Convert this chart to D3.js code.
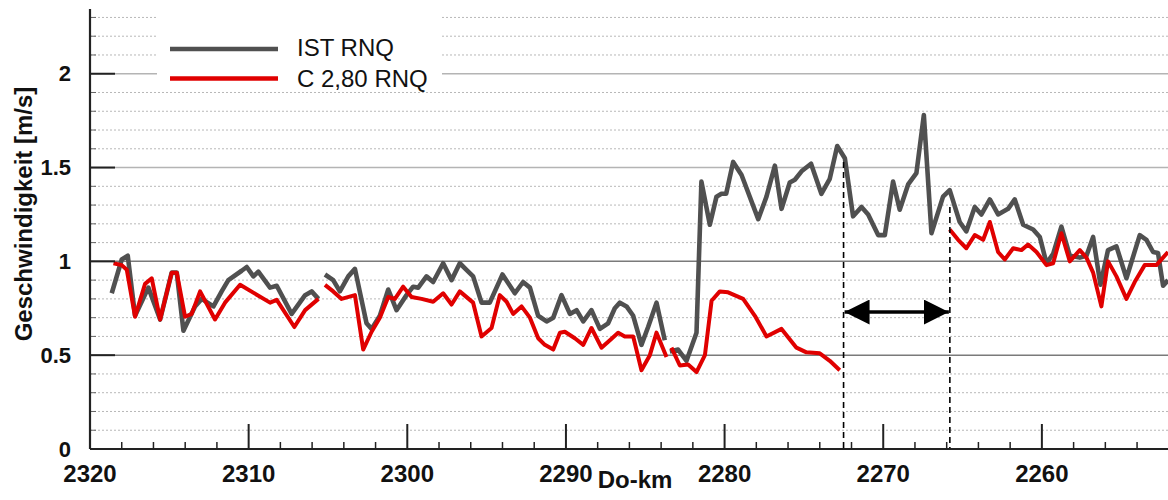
<!DOCTYPE html>
<head>
  <style>
    body { margin: 0; background: #fff; }
    text { font-family: "Liberation Sans", Arial, sans-serif; fill: #111; }
  </style>
<title>Geschwindigkeit</title></head>

<body>

  <script src="https://cdn.jsdelivr.net/npm/d3@7/dist/d3.min.js"></script>

  <script>
    // data (null = gap in the line)
    var istKm = [2318.63, 2318.0, 2317.62, 2317.16, 2316.32, 2315.58, 2314.85, 2314.53, 2314.11, 2313.38,
      2312.96, 2312.22, 2311.70, 2311.28, 2310.44, 2310.12, 2309.70, 2309.39, 2308.65, 2308.23,
      2307.29, 2306.44, 2306.03, 2305.6, 2305.4,
      2305.19, 2304.67, 2304.25, 2303.72, 2303.30, 2302.57, 2302.25, 2301.73, 2301.20, 2300.68,
      2300.05, 2299.63, 2299.31, 2298.79, 2298.37, 2297.74, 2297.21, 2296.69, 2296.27, 2295.85,
      2295.32, 2294.80, 2294.0, 2293.22, 2292.70, 2292.27, 2291.75, 2291.22, 2290.80, 2290.28,
      2289.75, 2289.33, 2288.91, 2288.39, 2287.86, 2287.34, 2286.92, 2286.60, 2286.18, 2285.76,
      2285.24, 2284.82, 2284.29, 2283.77, 2283.6,
      2283.45, 2282.93, 2282.40, 2281.77, 2281.46, 2280.93, 2280.51, 2280.20, 2279.90, 2279.46,
      2278.93, 2277.88, 2277.36, 2276.83, 2276.41, 2275.89, 2275.57, 2275.15, 2274.55, 2273.90,
      2273.37, 2272.90, 2272.42, 2271.90, 2271.37, 2270.95, 2270.32, 2269.90, 2269.38, 2268.96,
      2268.43, 2267.91, 2267.44, 2266.96, 2266.23, 2265.81, 2265.18, 2264.76, 2264.23, 2263.81,
      2263.28, 2262.76, 2262.13, 2261.71, 2261.18, 2260.55, 2260.13, 2259.71, 2259.29, 2258.77,
      2258.24, 2257.61, 2257.19, 2256.77, 2256.31, 2255.83, 2255.30, 2254.67, 2253.83, 2253.41,
      2252.99, 2252.68, 2252.36, 2252.05];
    var istVal = [0.83, 1.01, 1.03, 0.71, 0.86, 0.69, 0.94, 0.94, 0.63, 0.76,
      0.80, 0.76, 0.84, 0.90, 0.95, 0.97, 0.92, 0.945, 0.86, 0.87,
      0.72, 0.82, 0.84, 0.80, null,
      0.93, 0.90, 0.84, 0.92, 0.96, 0.67, 0.64, 0.71, 0.85, 0.74,
      0.82, 0.865, 0.86, 0.92, 0.89, 0.99, 0.90, 0.99, 0.955, 0.92,
      0.78, 0.78, 0.93, 0.83, 0.89, 0.86, 0.71, 0.68, 0.70, 0.82,
      0.72, 0.74, 0.68, 0.74, 0.64, 0.67, 0.75, 0.78, 0.76, 0.71,
      0.555, 0.65, 0.78, 0.58, null,
      0.52, 0.53, 0.47, 0.62, 1.425, 1.195, 1.345, 1.36, 1.36, 1.53,
      1.46, 1.225, 1.345, 1.51, 1.28, 1.42, 1.435, 1.48, 1.52, 1.36,
      1.44, 1.615, 1.55, 1.24, 1.29, 1.25, 1.14, 1.14, 1.425, 1.275,
      1.41, 1.47, 1.78, 1.15, 1.345, 1.38, 1.21, 1.16, 1.29, 1.25,
      1.33, 1.25, 1.28, 1.33, 1.195, 1.17, 1.13, 0.99, 1.04, 1.185,
      1.03, 1.02, 1.03, 1.13, 0.876, 1.06, 1.08, 0.91, 1.14, 1.115,
      1.05, 1.045, 0.87, 0.90];

    var cKm = [2318.52, 2318.0, 2317.68, 2317.16, 2316.53, 2316.11, 2315.58, 2314.85, 2314.53, 2314.01,
      2313.59, 2313.06, 2312.12, 2311.49, 2310.54, 2308.65, 2308.23, 2307.12, 2306.44, 2305.6, 2305.4,
      2305.19, 2304.67, 2304.14, 2303.30, 2302.78, 2302.25, 2301.73, 2301.20, 2300.78, 2300.26,
      2299.73, 2299.10, 2298.37, 2297.74, 2297.21, 2296.69, 2295.85, 2295.32, 2294.69, 2294.17,
      2293.74, 2293.33, 2292.80, 2292.27, 2291.75, 2291.33, 2290.80, 2290.38, 2290.07, 2289.44,
      2288.91, 2288.39, 2287.76, 2287.23, 2286.71, 2286.29, 2285.76, 2285.24, 2284.71, 2284.29,
      2283.66, 2283.5,
      2283.35, 2282.82, 2282.30, 2281.77, 2281.24, 2280.82, 2280.30, 2279.78, 2278.83, 2278.09,
      2277.36, 2276.41, 2275.47, 2274.84, 2274.00, 2273.37, 2272.74, 2270.0,
      2265.81, 2265.28, 2264.76, 2264.23, 2263.70, 2263.28, 2262.76, 2262.34, 2261.81, 2261.29,
      2260.87, 2260.34, 2259.71, 2259.29, 2258.77, 2258.24, 2257.61, 2257.19, 2256.77, 2256.25,
      2255.83, 2255.30, 2254.67, 2254.15, 2253.52, 2252.78, 2252.05];
    var cVal = [0.99, 0.98, 0.955, 0.705, 0.88, 0.91, 0.69, 0.94, 0.94, 0.705,
      0.72, 0.84, 0.69, 0.78, 0.875, 0.78, 0.795, 0.65, 0.74, 0.80, null,
      0.875, 0.84, 0.80, 0.82, 0.53, 0.625, 0.70, 0.81, 0.80, 0.865,
      0.81, 0.80, 0.785, 0.83, 0.77, 0.84, 0.78, 0.60, 0.645, 0.82,
      0.785, 0.72, 0.76, 0.70, 0.59, 0.555, 0.53, 0.62, 0.625, 0.59,
      0.555, 0.645, 0.54, 0.58, 0.62, 0.60, 0.60, 0.42, 0.50, 0.62,
      0.49, null,
      0.54, 0.445, 0.45, 0.41, 0.50, 0.79, 0.84, 0.835, 0.80, 0.71,
      0.60, 0.64, 0.54, 0.515, 0.51, 0.47, 0.42, null,
      1.17, 1.115, 1.07, 1.14, 1.115, 1.21, 1.05, 1.01, 1.07, 1.06,
      1.09, 1.05, 0.98, 0.99, 1.15, 1.00, 1.06, 1.02, 0.94, 0.76,
      1.00, 0.92, 0.80, 0.89, 0.98, 0.98, 1.05];

    var seriesNames = ["IST RNQ", "C 2,80 RNQ"];
    var seriesColors = ["#505050", "#e00000"];

    var xMajor = [2320, 2310, 2300, 2290, 2280, 2270, 2260];
    var yMajor = [0, 0.5, 1, 1.5, 2];
    var yLabels = ["0", "0.5", "1", "1.5", "2"];

    // marked section (dashed lines + arrow)
    var markKm = [2272.5, 2265.8];
    var markTop = [1.53, 1.29];
    var arrowVal = 0.73;

    var margin = {top: 9, right: 0, bottom: 51, left: 90};
    var width = 1168 - margin.left - margin.right,
        height = 500 - margin.top - margin.bottom;

    var x = d3.scaleLinear().domain([2320, 2252.05]).range([0, width]),
        y = d3.scaleLinear().domain([0, 2.345]).range([height, 0]);

    var svg = d3.select("body").append("svg")
                .attr("width", 1168).attr("height", 500)
                .append("g").attr("transform", "translate(" + margin.left + "," + margin.top + ")");

    // grid lines: dotted every 0.1, solid at the major values
    var minor = d3.range(1, 24).map(function(i) { return i / 10; })
                  .filter(function(v) { return Math.round(v * 10) % 5 != 0; });
    svg.append("g").selectAll("line").data(minor).join("line")
       .attr("x1", 0).attr("x2", width)
       .attr("y1", function(d) { return y(d); }).attr("y2", function(d) { return y(d); })
       .attr("stroke", "#b8b8b8").attr("stroke-width", 1).attr("stroke-dasharray", "2,2");
    svg.append("g").selectAll("line").data(yMajor.slice(1)).join("line")
       .attr("x1", 0).attr("x2", width)
       .attr("y1", function(d) { return y(d); }).attr("y2", function(d) { return y(d); })
       .attr("stroke", function(d) { return d <= 1 ? "#7a7a7a" : "#b4b4b4"; })
       .attr("stroke-width", 1.5);

    // legend box (white, hides the grid behind it)
    var legend = svg.append("g").attr("transform", "translate(67,0)");
    legend.append("rect").attr("x", 0).attr("y", 1).attr("width", 285).attr("height", 78).attr("fill", "#fff");
    seriesNames.forEach(function(name, i) {
      legend.append("line").attr("x1", 13).attr("x2", 121)
            .attr("y1", 40 + i * 29.6).attr("y2", 40 + i * 29.6)
            .attr("stroke", seriesColors[i]).attr("stroke-width", 4.5);
      legend.append("text").attr("x", 140).attr("y", 47 + i * 31)
            .style("font-size", "24px").text(name);
    });

    // lines
    svg.append("clipPath").attr("id", "clip").append("rect")
       .attr("x", 0).attr("y", 0).attr("width", width).attr("height", height);

    var line = d3.line()
                 .defined(function(d) { return d[1] != null; })
                 .x(function(d) { return x(d[0]); })
                 .y(function(d) { return y(d[1]); });

    var istData = istKm.map(function(k, i) { return [k, istVal[i]]; });
    var cData = cKm.map(function(k, i) { return [k, cVal[i]]; });

    svg.append("path").datum(istData).attr("clip-path", "url(#clip)")
       .attr("fill", "none").attr("stroke", seriesColors[0]).attr("stroke-width", 4.6)
       .attr("stroke-linejoin", "round").attr("d", line);
    svg.append("path").datum(cData).attr("clip-path", "url(#clip)")
       .attr("fill", "none").attr("stroke", seriesColors[1]).attr("stroke-width", 4)
       .attr("stroke-linejoin", "round").attr("d", line);

    // dashed markers and double arrow
    svg.append("g").selectAll("line").data(markKm).join("line")
       .attr("x1", function(d) { return x(d); }).attr("x2", function(d) { return x(d); })
       .attr("y1", function(d, i) { return y(markTop[i]); }).attr("y2", height)
       .attr("stroke", "#000").attr("stroke-width", 1.6).attr("stroke-dasharray", "6,4");

    var defs = svg.append("defs");
    defs.append("marker").attr("id", "head").attr("viewBox", "0 0 10 10")
        .attr("refX", 10).attr("refY", 5).attr("markerWidth", 25).attr("markerHeight", 25)
        .attr("markerUnits", "userSpaceOnUse").attr("orient", "auto-start-reverse")
        .append("path").attr("d", "M0,0L10,5L0,10Z").attr("fill", "#000");
    svg.append("line")
       .attr("x1", x(markKm[0]) + 1).attr("x2", x(markKm[1]) - 1)
       .attr("y1", y(arrowVal)).attr("y2", y(arrowVal))
       .attr("stroke", "#000").attr("stroke-width", 3.5)
       .attr("marker-start", "url(#head)").attr("marker-end", "url(#head)");

    // X axis: ticks pointing up into the plot
    var xAx = svg.append("g").attr("id", "x_axis").attr("transform", "translate(0," + height + ")");
    xAx.append("g").selectAll("line").data(d3.range(2318, 2252, -2).filter(function(k) { return k % 10 != 0; }))
       .join("line").attr("x1", function(d) { return x(d); }).attr("x2", function(d) { return x(d); })
       .attr("y1", 0).attr("y2", -7).attr("stroke", "#222").attr("stroke-width", 1.5);
    xAx.append("g").selectAll("line").data(xMajor)
       .join("line").attr("x1", function(d) { return x(d); }).attr("x2", function(d) { return x(d); })
       .attr("y1", 0).attr("y2", -25).attr("stroke", "#222").attr("stroke-width", 2);
    xAx.append("line").attr("x1", 0).attr("x2", width).attr("stroke", "#222").attr("stroke-width", 2.2);
    xAx.append("g").selectAll("text").data(xMajor).join("text")
       .attr("x", function(d) { return x(d); }).attr("y", 33)
       .attr("text-anchor", "middle").style("font-size", "24px").style("font-weight", "bold")
       .text(function(d) { return d; });

    // X axis label
    svg.append("text").attr("id", "x_axis_label")
       .attr("x", 545).attr("y", 488 - margin.top)
       .attr("text-anchor", "middle").style("font-size", "24px").style("font-weight", "bold")
       .text("Do-km");

    // Y axis
    var yAx = svg.append("g").attr("id", "y_axis");
    yAx.append("g").selectAll("line").data(minor).join("line")
       .attr("x1", 0).attr("x2", 6)
       .attr("y1", function(d) { return y(d); }).attr("y2", function(d) { return y(d); })
       .attr("stroke", "#666").attr("stroke-width", 1);
    yAx.append("g").selectAll("line").data(yMajor).join("line")
       .attr("x1", 0).attr("x2", 25)
       .attr("y1", function(d) { return y(d); }).attr("y2", function(d) { return y(d); })
       .attr("stroke", "#222").attr("stroke-width", 2);
    yAx.append("line").attr("y1", 0).attr("y2", height).attr("stroke", "#222").attr("stroke-width", 2.2);
    yAx.append("g").selectAll("text").data(yMajor).join("text")
       .attr("x", -19).attr("y", function(d) { return y(d); }).attr("dy", "0.35em")
       .attr("text-anchor", "end").style("font-size", "22px").style("font-weight", "bold")
       .text(function(d, i) { return yLabels[i]; });

    svg.append("text").attr("id", "y_axis_label")
       .attr("transform", "rotate(-90)")
       .attr("x", -(214 - margin.top)).attr("y", 32 - margin.left)
       .attr("text-anchor", "middle").style("font-size", "24px").style("font-weight", "bold")
       .text("Geschwindigkeit [m/s]");
  </script>

</body>
